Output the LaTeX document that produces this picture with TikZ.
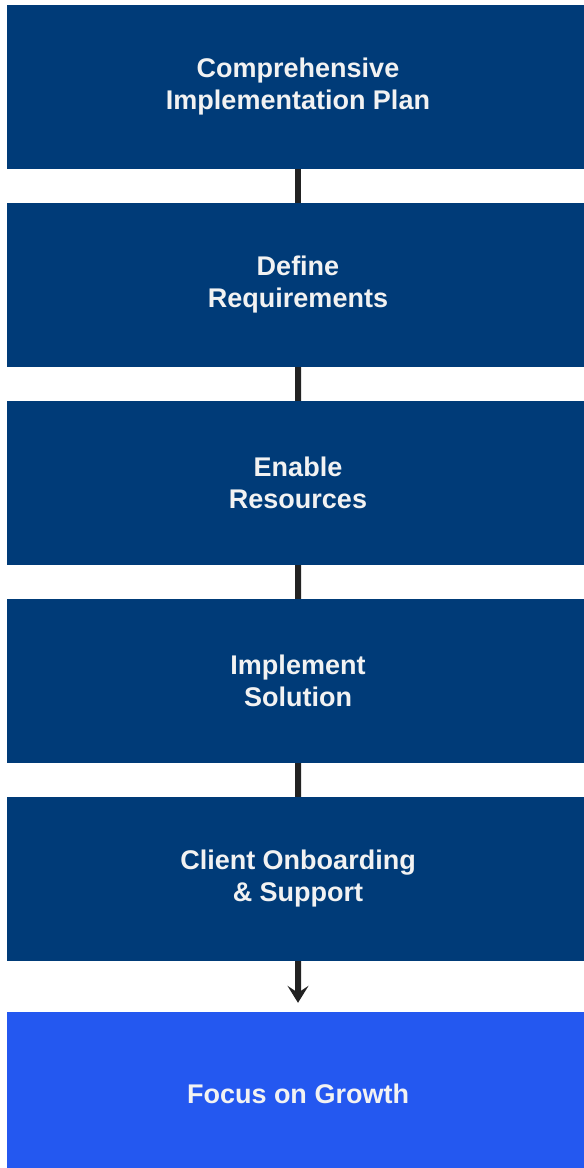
\documentclass[tikz,border=0pt]{standalone}
\usepackage{fontspec}
\setmainfont{Liberation Sans}
\usetikzlibrary{arrows.meta}
\definecolor{stepblue}{RGB}{0,59,120}
\definecolor{growblue}{RGB}{36,88,240}
\definecolor{stepline}{RGB}{34,34,34}
\definecolor{steptext}{RGB}{242,242,242}

\begin{document}
\begin{tikzpicture}[x=1pt, y=1pt, level distance=198pt,
      every node/.style = {shape=rectangle, align=center,
        minimum width=582pt, minimum height=164pt, inner sep=0pt,
        fill=stepblue, text=steptext,
        font=\fontsize{27}{32}\selectfont\bfseries},
      edge from parent/.style = {draw=stepline, line width=6pt}]
  \useasboundingbox (0,0) rectangle (584,-1168);
  \clip (0,0) rectangle (584,-1168);
  \node (plan) at (298,-87) {Comprehensive\\Implementation Plan}
  child { node (reqs) {Define\\Requirements}
    child { node (res) {Enable\\Resources}
      child { node (impl) {Implement\\Solution}
        child { node (onbd) {Client Onboarding\\\& Support}
          child[level distance=215pt] { node (grow) [fill=growblue] {Focus on Growth}
            edge from parent [-{Stealth[length=17pt,width=21pt,inset=7pt]}, shorten >=9pt]}}}}};
\end{tikzpicture}
\end{document}
